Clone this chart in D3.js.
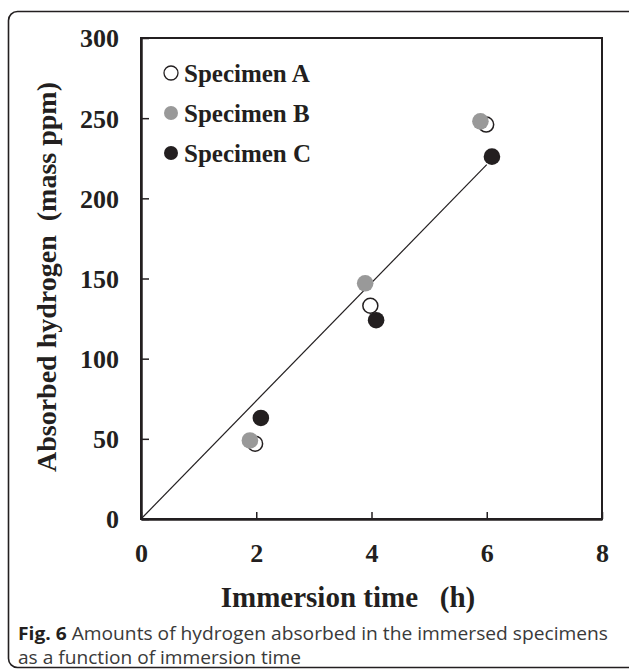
<!DOCTYPE html>
<html>
<head>
<meta charset="utf-8">
<script src="https://cdn.jsdelivr.net/npm/d3@7"></script>
<style>
  body { margin: 0; background: #fff; }
  svg { display: block; }
</style>
</head>
<body>
<svg></svg>
<script>
// data
let specA = [[1.98, 47], [3.98, 133], [5.99, 246]]
let specB = [[1.89, 49], [3.89, 147], [5.89, 248]]
let specC = [[2.08, 63], [4.08, 124], [6.09, 226]]
let fitLine = [[0, 0], [6, 221]]
let names = ['Specimen A', 'Specimen B', 'Specimen C']
let xTicks = [0, 2, 4, 6, 8]
let yTicks = [0, 50, 100, 150, 200, 250, 300]

let width = 629
let height = 669
let ink = '#231f20'
let serif = '"Liberation Serif", "Times New Roman", serif'
let sans = '"Open Sans", "Noto Sans", sans-serif'

let plotLeft = 141, plotRight = 602, plotTop = 38, plotBottom = 519

let svg = d3.select('svg').attr('width', width).attr('height', height)

// outer rounded frame
svg.append('rect')
  .attr('x', 8.5).attr('y', 11.5)
  .attr('width', 640).attr('height', 656)
  .attr('rx', 9)
  .attr('fill', 'none')
  .attr('stroke', ink)
  .attr('stroke-width', 1.6)

let xScale = d3.scaleLinear().domain([0, 8]).range([plotLeft, plotRight])
let yScale = d3.scaleLinear().domain([0, 300]).range([plotBottom, plotTop])

// plot box
svg.append('rect')
  .attr('x', plotLeft).attr('y', plotTop)
  .attr('width', plotRight - plotLeft).attr('height', plotBottom - plotTop)
  .attr('fill', 'none')
  .attr('stroke', ink)
  .attr('stroke-width', 2)

let xAxis = d3.axisBottom(xScale).tickValues(xTicks).tickSizeInner(-7).tickSizeOuter(0)
let yAxis = d3.axisLeft(yScale).tickValues(yTicks).tickSizeInner(-8).tickSizeOuter(0).tickPadding(22)

let gx = svg.append('g')
  .attr('transform', 'translate(0,' + plotBottom + ')')
  .call(xAxis)
let gy = svg.append('g')
  .attr('transform', 'translate(' + plotLeft + ',0)')
  .call(yAxis)

;[gx, gy].forEach(g => {
  g.select('.domain').attr('stroke', ink).attr('stroke-width', 2.5)
  g.selectAll('.tick line').attr('stroke', ink).attr('stroke-width', 1.5)
  g.selectAll('.tick text')
    .attr('fill', ink)
    .style('font-family', serif)
    .style('font-weight', 'bold')
    .style('font-size', '26px')
})
gx.selectAll('.tick text').attr('y', 43).attr('dy', 0)
gy.selectAll('.tick text').attr('dy', '0.34em')

// axis titles
svg.append('text')
  .attr('x', 348).attr('y', 607)
  .attr('text-anchor', 'middle')
  .attr('fill', ink)
  .style('font-family', serif).style('font-weight', 'bold').style('font-size', '29px')
  .style('white-space', 'pre')
  .text('Immersion time   (h)')

svg.append('text')
  .attr('transform', 'translate(56,277) rotate(-90)')
  .attr('text-anchor', 'middle')
  .attr('fill', ink)
  .style('font-family', serif).style('font-weight', 'bold').style('font-size', '28px')
  .style('white-space', 'pre')
  .text('Absorbed hydrogen  (mass ppm)')

// fitted line through origin
let line = d3.line().x(d => xScale(d[0])).y(d => yScale(d[1]))
svg.append('path')
  .datum(fitLine)
  .attr('d', line)
  .attr('fill', 'none')
  .attr('stroke', ink)
  .attr('stroke-width', 1.2)

let styles = [
  { data: specA, fill: '#fff', stroke: ink, sw: 1.5, r: 7.5 },
  { data: specB, fill: '#999999', stroke: 'none', sw: 0, r: 8.3 },
  { data: specC, fill: ink, stroke: 'none', sw: 0, r: 8.3 }
]

styles.forEach(s => {
  svg.append('g').selectAll('circle')
    .data(s.data)
    .enter()
    .append('circle')
    .attr('cx', d => xScale(d[0]))
    .attr('cy', d => yScale(d[1]))
    .attr('r', s.r)
    .attr('fill', s.fill)
    .attr('stroke', s.stroke)
    .attr('stroke-width', s.sw)
})

// legend
let legend = svg.append('g')
names.forEach((n, i) => {
  let s = styles[i]
  let y = 73 + i * 40
  legend.append('circle')
    .attr('cx', 171).attr('cy', y)
    .attr('r', 7)
    .attr('fill', s.fill)
    .attr('stroke', s.stroke === 'none' ? 'none' : ink)
    .attr('stroke-width', 1.3)
  legend.append('text')
    .attr('x', 184).attr('y', y + 9)
    .attr('fill', ink)
    .style('font-family', serif).style('font-weight', 'bold').style('font-size', '25px')
    .text(n)
})

// caption
let cap = svg.append('text')
  .attr('x', 18).attr('y', 640)
  .attr('fill', '#3a3a3a')
  .attr('textLength', 590)
  .attr('lengthAdjust', 'spacingAndGlyphs')
  .style('font-family', sans)
  .style('font-size', '18px')
cap.append('tspan').style('font-weight', 'bold').attr('fill', ink).text('Fig. 6')
cap.append('tspan').text(' Amounts of hydrogen absorbed in the immersed specimens')
svg.append('text')
  .attr('x', 18).attr('y', 664)
  .attr('fill', '#3a3a3a')
  .attr('textLength', 283)
  .attr('lengthAdjust', 'spacingAndGlyphs')
  .style('font-family', sans)
  .style('font-size', '18px')
  .text('as a function of immersion time')
</script>
</body>
</html>
